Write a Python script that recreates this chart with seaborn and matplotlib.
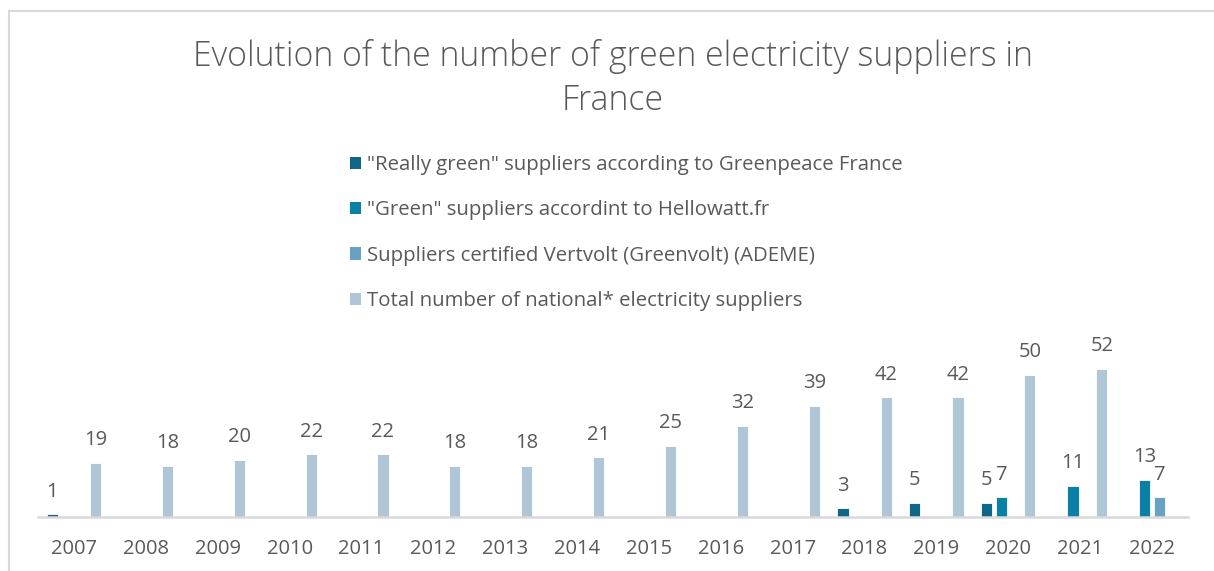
import numpy as np
import pandas as pd
import matplotlib
matplotlib.use("Agg")
import matplotlib.pyplot as plt
from matplotlib.patches import Patch, Rectangle
import seaborn as sns

years = [str(y) for y in range(2007, 2023)]
greenpeace = [1, None, None, None, None, None, None, None, None, None, None, 3, 5, 5, None, None]
hellowatt = [None, None, None, None, None, None, None, None, None, None, None, None, None, 7, 11, 13]
vertvolt = [None, None, None, None, None, None, None, None, None, None, None, None, None, None, None, 7]
total = [19, 18, 20, 22, 22, 18, 18, 21, 25, 32, 39, 42, 42, 50, 52, None]

series_names = [
    '"Really green" suppliers according to Greenpeace France',
    '"Green" suppliers accordint to Hellowatt.fr',
    'Suppliers certified Vertvolt (Greenvolt) (ADEME)',
    'Total number of national* electricity suppliers',
]
series_colors = ["#0f6686", "#0a80a6", "#67a2c2", "#afc6d7"]

rows = []
for name, vals in zip(series_names, [greenpeace, hellowatt, vertvolt, total]):
    for yr, v in zip(years, vals):
        if v is not None:
            rows.append({"year": yr, "series": name, "value": v})
df = pd.DataFrame(rows)

sns.set_theme(style="white")
plt.rcParams["font.family"] = ["Open Sans", "DejaVu Sans"]
text_color = "#595959"

W, H = 1214, 571
fig = plt.figure(figsize=(W / 100, H / 100), dpi=100)

# axes placed in pixel coordinates: x 38..1188, y 330..517 (from top)
ax_left, ax_right, ax_top, ax_bottom = 38, 1188, 330, 517
ax = fig.add_axes([ax_left / W, 1 - ax_bottom / H,
                   (ax_right - ax_left) / W, (ax_bottom - ax_top) / H])

sns.barplot(data=df, x="year", y="value", hue="series", order=years,
            hue_order=series_names, palette=series_colors, width=0.8, gap=0.22,
            dodge=True, saturation=1, legend=False, ax=ax,
            edgecolor="white", linewidth=0.6)

ymax = (ax_bottom - ax_top) / 2.85
ax.set_ylim(0, ymax)
ax.set_xlim(-0.5, len(years) - 0.5)

for cont in ax.containers:
    ax.bar_label(cont, fmt="%g", padding=9, fontsize=14.5, color=text_color)

for s in ["top", "right", "left"]:
    ax.spines[s].set_visible(False)
ax.spines["bottom"].set_color("#d9d9d9")
ax.spines["bottom"].set_linewidth(1.8)
ax.set_yticks([])
ax.set_xlabel("")
ax.set_ylabel("")
ax.tick_params(axis="x", length=0, pad=15.5, labelsize=14.5, labelcolor=text_color)
ax.patch.set_alpha(0)

# chart frame
fig.patches.append(Rectangle((8.5 / W, -0.1), 1.2, 1 - 10.5 / H + 0.1,
                             transform=fig.transFigure, fill=False,
                             edgecolor="#d9d9d9", linewidth=1.5))

fig.text(613 / W, 1 - 56 / H, "Evolution of the number of green electricity suppliers in",
         ha="center", va="center", fontsize=24.4, color=text_color, fontweight=300)
fig.text(613 / W, 1 - 101 / H, "France",
         ha="center", va="center", fontsize=24.4, color=text_color, fontweight=300)

handles = [Patch(facecolor=c, edgecolor="none") for c in series_colors]
leg = fig.legend(handles, series_names, loc="upper left",
                 bbox_to_anchor=(350 / W, 1 - 155 / H), frameon=False,
                 fontsize=14.7, labelcolor=text_color, handlelength=0.55,
                 handleheight=0.55, handletextpad=0.3, labelspacing=1.24,
                 borderaxespad=0, borderpad=0)

fig.savefig("out.png", dpi=100)
